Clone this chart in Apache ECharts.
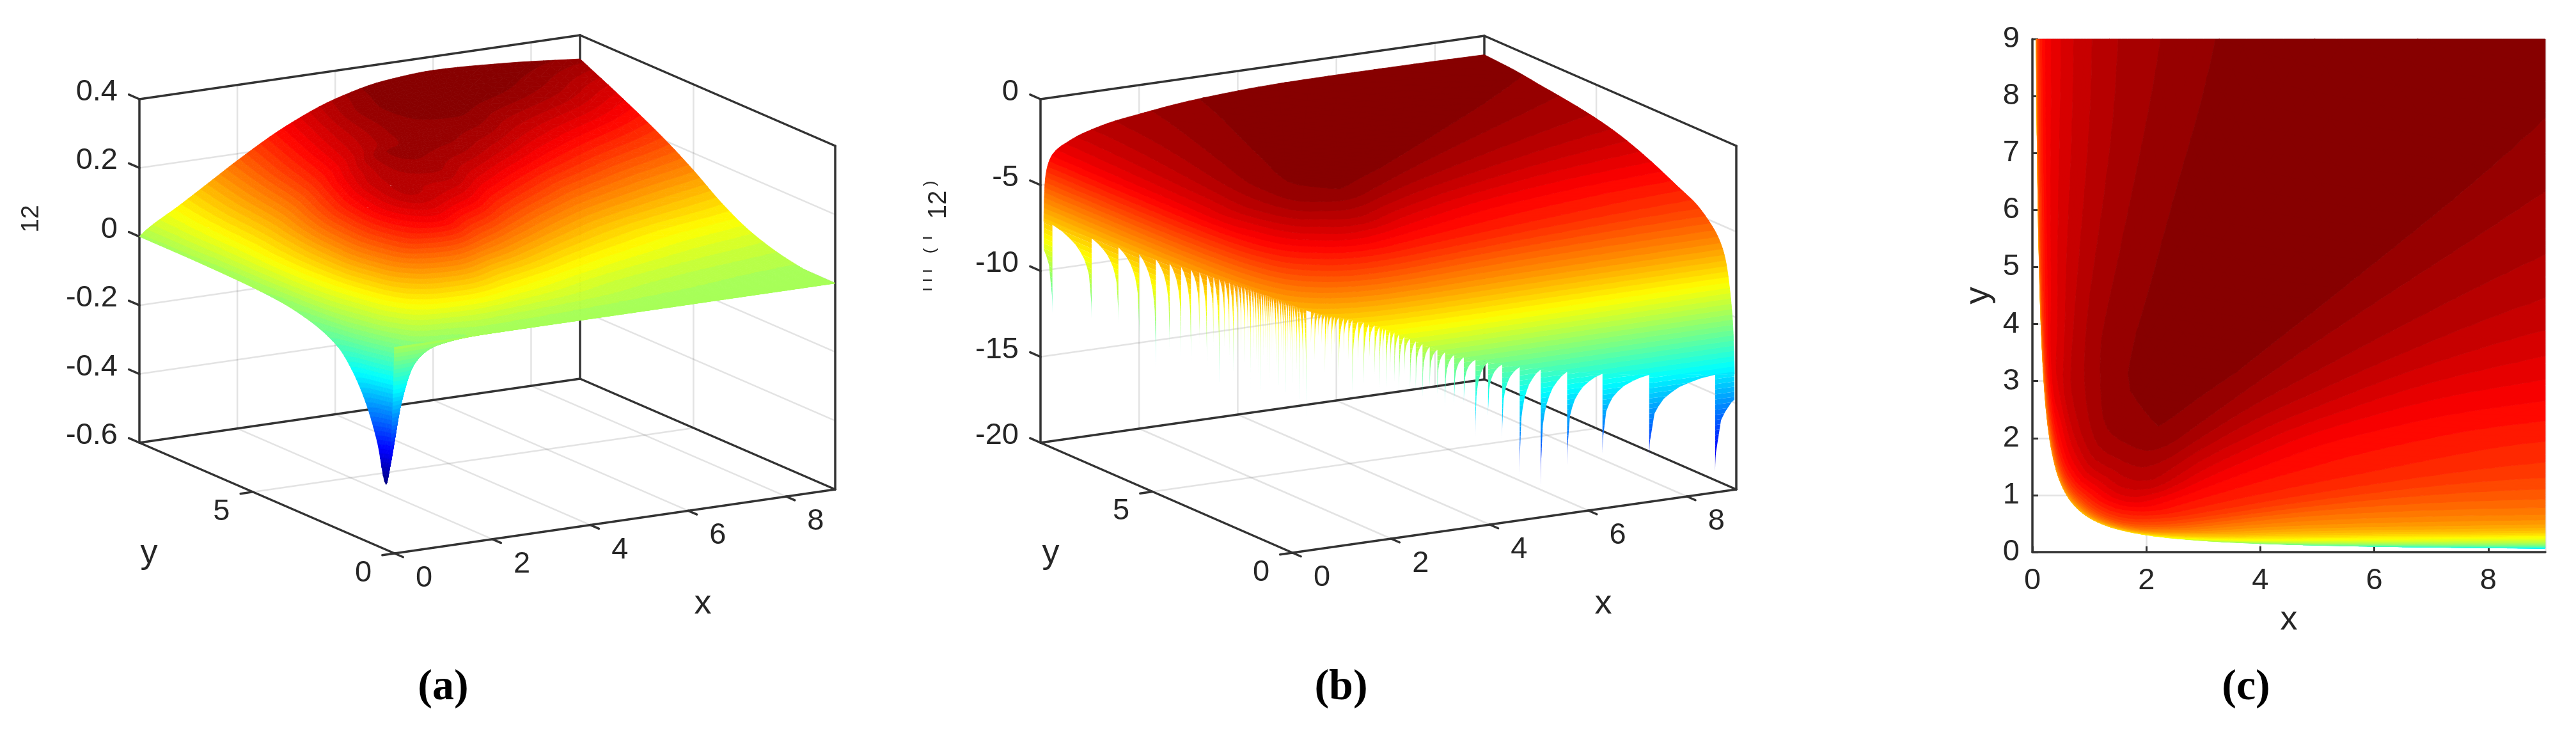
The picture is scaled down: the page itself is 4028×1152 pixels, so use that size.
<!DOCTYPE html>
<html><head><meta charset="utf-8">
<style>html,body{margin:0;padding:0;background:#fff}#c{width:4028px;height:1152px}</style>
<script src="https://cdn.jsdelivr.net/npm/echarts@6/dist/echarts.min.js"></script>
</head><body><div id="c"></div>
<script>
// ---------- panel (a): u12 ----------
const xNodes=[0,.1,.25,.5,.75,1,1.5,2,3,4,5,6,7.5,9];
const yNodes=[0,.1,.3,.6,1,1.5,2,3,4,5,6,7.5,9];
const u12=[
[0,0,0,0,0,0,0,0,0,0,0,0,0,0],
[-.25,-.2,-.12,-.05,-.025,-.015,-.006,-.003,-.001,-.0005,0,0,0,0],
[-.41,-.33,-.2,-.08,-.04,-.02,-.008,0,.0005,.0005,.0004,.0003,.0002,.0001],
[-.3,-.26,-.16,-.05,-.012,.002,.012,.02,.012,.007,.004,.002,.001,.0005],
[-.2,-.18,-.1,-.02,.02,.05,.08,.085,.05,.03,.018,.01,.004,.001],
[-.12,-.11,-.05,.015,.06,.105,.16,.175,.105,.062,.035,.022,.012,.007],
[-.07,-.06,-.015,.035,.09,.15,.235,.26,.18,.11,.065,.042,.025,.016],
[-.03,-.022,.018,.07,.13,.185,.27,.305,.285,.21,.145,.1,.062,.044],
[-.012,-.008,.03,.08,.125,.175,.255,.3,.32,.285,.23,.175,.125,.09],
[-.005,0,.033,.075,.11,.15,.22,.275,.33,.325,.295,.25,.19,.15],
[-.002,.003,.03,.065,.095,.125,.185,.24,.31,.335,.33,.3,.25,.203],
[0,.01,.03,.058,.084,.11,.16,.21,.287,.335,.35,.345,.32,.27],
[0,.012,.027,.048,.068,.09,.135,.18,.26,.318,.35,.36,.35,.331]];
// ---------- panels (b), (c): ln(u12) read along the zero curve xy = 0.6 ----------
const sNodes=[-2.5,-2,-1.5,-1,-.75,-.5,-.25,0,.125,.25,.5,.75,1,1.5,2,2.5]; // half log ratio of x to y
const wNodes=[1,1.15,1.4,2,3,5,8,14,25,45,80,135];                           // xy / 0.6
const lnU12=[
[-7.2,-6.7,-6.3,-6.2,-6.3,-6.4,-6.6,-6.8,-6.9,-7,-7.2,-7.5,-8.1,-10.1,-11.9,-13.5],
[-5.8,-5.4,-5,-4.9,-4.95,-5,-5.2,-5.5,-5.55,-5.6,-5.8,-6.2,-7.1,-9.2,-11.2,-13],
[-5,-4.6,-4.1,-3.8,-3.85,-3.9,-4.1,-4.4,-4.45,-4.5,-4.7,-5.3,-6.4,-8.5,-10.6,-12.4],
[-4.3,-4,-3.55,-2.85,-3,-2.95,-3,-3.3,-3.35,-3.45,-3.9,-4.7,-5.8,-7.9,-9.9,-11.7],
[-3.9,-3.6,-3.15,-2.65,-2.27,-2.2,-2.15,-2.4,-2.45,-2.6,-3.45,-4.4,-5.6,-7.4,-9.4,-11],
[-3.6,-3.3,-2.95,-2.4,-2.02,-1.75,-1.55,-1.7,-1.85,-2.15,-3.4,-4.25,-5.4,-6.8,-8.8,-10.3],
[-3.4,-3,-2.8,-2.27,-1.88,-1.5,-1.3,-1.3,-1.6,-2.2,-3.4,-4.15,-5.15,-6.4,-8.2,-9.6],
[-3.2,-2.8,-2.55,-2.15,-1.8,-1.42,-1.2,-1.22,-1.55,-2.15,-3.4,-4.05,-4.85,-5.9,-7.6,-9],
[-3,-2.6,-2.3,-1.95,-1.72,-1.34,-1.15,-1.12,-1.52,-2,-3.25,-3.98,-4.5,-5.5,-7.1,-8.4],
[-2.8,-2.4,-2.1,-1.8,-1.6,-1.29,-1.1,-1.05,-1.48,-1.9,-2.93,-3.7,-4.2,-5.1,-6.7,-7.9],
[-2.7,-2.3,-1.9,-1.6,-1.4,-1.15,-1.05,-1.03,-1.45,-1.82,-2.6,-3.4,-3.9,-4.8,-6.3,-7.5],
[-2.6,-2.2,-1.8,-1.45,-1.25,-1.05,-1.05,-1.1,-1.45,-1.75,-2.3,-3.1,-3.7,-4.6,-6,-7.1]];
// cusps of the surface (b) along the zero curve
const cuspLeftX=[.069,.082,.094,.106,.118,.13,.142,.154,.166,.178,.19,.202,.214,.226,.238,.25,.262,.274,.286,.298,.31,.322,.334,.346,.358,.37,.382,.394,.406,.42,.44,.46,.48,.5,.52,.54,.56,.58,.6,.63,.66,.7,.74];
const cuspLeftZ=[-12.25,-11.6,-11.2,-11.6,-12.9,-11.5,-11.7,-11.8,-10.5,-11.7,-10.5,-13,-10.5,-11,-12,-11,-10.5,-11.5,-10,-12,-10.5,-11,-12,-13,-10.5,-10,-11,-12,-10.5,-10,-11,-12.5,-10,-11,-13,-10,-10.5,-12,-10,-11,-13,-12,-13];
const cuspRightX=[.8,.85,.9,.95,1,1.04,1.1,1.15,1.22,1.3,1.38,1.45,1.55,1.65,1.75,1.85,1.94,2,2.06,2.14,2.22,2.31,2.41,2.52,2.63,2.76,2.9,3.05,3.2,3.38,3.57,3.8,4.05,4.33,4.68,5.1,5.63,6.34,7.28,8.61,10.1];
const cuspRightZ=[-9,-10,-8.5,-9,-11,-9,-10,-9,-11,-9.5,-10,-12,-10,-11.5,-10,-11,-12,-10.5,-12,-11,-11.5,-12,-11,-12,-12,-12.5,-12,-12.4,-13,-13,-13,-14.9,-14,-15.3,-17.5,-18.4,-17.3,-16.9,-17.5,-18.85];
const cuspU=[0,.002,.006,.012,.033,.08,.14,.22,.33,.455,.62,.78,1];
const cuspH=[1,.93,.86,.8,.7,.47,.38,.29,.215,.147,.09,.044,0];
// ticks
const xTicks=[0,2,4,6,8], yTicks3d=[0,5];
const zTicksA=[-.6,-.4,-.2,0,.2,.4], zLabelsA=['-0.6','-0.4','-0.2','0','0.2','0.4'];
const zTicksB=[-20,-15,-10,-5,0], zLabelsB=['-20','-15','-10','-5','0'];
const TEXT='#262626', FONT='"Liberation Sans",Arial,sans-serif';
const C_A=[-.41,.35], C_B=[-20,-1];

// ---------- helpers ----------
function jet(k){const t=(k+.5)/64,c=v=>Math.round(255*Math.max(0,Math.min(1,v)));
  return `rgb(${c(Math.min(4*t-1.5,-4*t+4.5))},${c(Math.min(4*t-.5,-4*t+3.5))},${c(Math.min(4*t+.5,-4*t+2.5))})`;}
function pchip(xs,ys,qs){const n=xs.length,h=[],d=[],m=new Array(n);
  for(let i=0;i<n-1;i++){h[i]=xs[i+1]-xs[i];d[i]=(ys[i+1]-ys[i])/h[i];}
  m[0]=d[0];m[n-1]=d[n-2];
  for(let i=1;i<n-1;i++){if(d[i-1]*d[i]<=0)m[i]=0;else{const a=2*h[i]+h[i-1],b=h[i]+2*h[i-1];m[i]=(a+b)/(a/d[i-1]+b/d[i]);}}
  return qs.map(q=>{let i=0;while(i<n-2&&q>xs[i+1])i++;const t=(q-xs[i])/h[i],t2=t*t,t3=t2*t;
    return (2*t3-3*t2+1)*ys[i]+(t3-2*t2+t)*h[i]*m[i]+(-2*t3+3*t2)*ys[i+1]+(t3-t2)*h[i]*m[i+1];});}
function fine(xs,nf){const o=[];for(let i=0;i<xs.length-1;i++){const n=nf(i);for(let j=0;j<n;j++)o.push(xs[i]+(xs[i+1]-xs[i])*j/n);}o.push(xs[xs.length-1]);return o;}
function surfaceOn(xs,ys,tab,qx,qy){const cols=xs.map((_,ix)=>pchip(ys,tab.map(r=>r[ix]),qy));
  return qy.map((_,j)=>pchip(xs,cols.map(c=>c[j]),qx));}
function clipLE(p,a,lim){const o=[];for(let i=0;i<p.length;i++){const A=p[i],B=p[(i+1)%p.length],ia=A[a]<=lim,ib=B[a]<=lim;
  if(ia)o.push(A);if(ia!==ib){const t=(lim-A[a])/(B[a]-A[a]);o.push([A[0]+t*(B[0]-A[0]),A[1]+t*(B[1]-A[1]),A[2]+t*(B[2]-A[2])]);}}return o;}
function clipGE(p,a,lim){const o=[];for(let i=0;i<p.length;i++){const A=p[i],B=p[(i+1)%p.length],ia=A[a]>=lim,ib=B[a]>=lim;
  if(ia)o.push(A);if(ia!==ib){const t=(lim-A[a])/(B[a]-A[a]);o.push([A[0]+t*(B[0]-A[0]),A[1]+t*(B[1]-A[1]),A[2]+t*(B[2]-A[2])]);}}return o;}
function split(poly,cmin,cmax,emit){let lo=Infinity,hi=-Infinity;for(const v of poly){if(v[2]<lo)lo=v[2];if(v[2]>hi)hi=v[2];}
  const dz=(cmax-cmin)/64,L=z=>Math.max(0,Math.min(63,Math.floor((z-cmin)/dz))),k0=L(lo),k1=L(hi);
  if(k0===k1){emit(k0,poly);return;}
  for(let k=k0;k<=k1;k++){let p=poly;if(k>0)p=clipGE(p,2,cmin+k*dz);if(p.length&&k<63)p=clipLE(p,2,cmin+(k+1)*dz);if(p.length>2)emit(k,p);}}

// ---------- build surfaces ----------
// (a) ordered back to front
const qxA=fine(xNodes,()=>6),qyA=fine(yNodes,()=>6),zA=surfaceOn(xNodes,yNodes,u12,qxA,qyA);
const polysA=[];
for(let j=0;j<qyA.length-1;j++)for(let i=0;i<qxA.length-1;i++){
  const a=[qxA[i],qyA[j],zA[j][i]],b=[qxA[i+1],qyA[j],zA[j][i+1]],c=[qxA[i+1],qyA[j+1],zA[j+1][i+1]],d=[qxA[i],qyA[j+1],zA[j+1][i]];
  for(const tri of [[a,b,c],[a,c,d]])split(tri,C_A[0],C_A[1],(k,p)=>polysA.push({k,p,d:tri.reduce((s,v)=>s+11*v[0]+19*v[1],0)}));}
polysA.sort((m,n)=>n.d-m.d);
// (b)/(c) log surface
const tNodes=wNodes.map(Math.log);
const qs=fine(sNodes,i=>Math.round((sNodes[i+1]-sNodes[i])/.0625)),qt=fine(tNodes,()=>6),zB=surfaceOn(sNodes,tNodes,lnU12,qs,qt);
const bandsB=Array.from({length:64},()=>[]),bandsF=Array.from({length:64},()=>[]);
const node=(i,j)=>{const r=Math.sqrt(.6)*Math.exp(qt[j]/2);return [r*Math.exp(qs[i]),r*Math.exp(-qs[i]),zB[j][i]];};
for(let j=0;j<qt.length-1;j++)for(let i=0;i<qs.length-1;i++){
  const a=node(i,j),b=node(i+1,j),c=node(i+1,j+1),d=node(i,j+1);
  if(Math.min(a[0],b[0],c[0],d[0])>9||Math.min(a[1],b[1],c[1],d[1])>9)continue;
  for(const tri of [[a,b,c],[a,c,d]]){let p=clipLE(tri,0,9);if(p.length>2)p=clipLE(p,1,9);if(p.length>2)split(p,C_B[0],C_B[1],(k,q)=>bandsB[k].push(q));}}
// cusps hanging from the zero curve
const topZ=x=>pchip(sNodes,lnU12[0],[Math.log(x/Math.sqrt(.6))])[0];
function cusp(x0,x1,zBottom){ // x0 = the deep end, x1 = the far end of one scallop
  const D=topZ(x0)-zBottom;
  for(let i=0;i<cuspU.length-1;i++){
    const X=[cuspU[i],cuspU[i+1]].map(u=>x0+(x1-x0)*u),H=[cuspH[i],cuspH[i+1]],T=X.map(topZ);
    const v=(x,z)=>[x,.6/x,z];
    const q=[v(X[0],T[0]),v(X[1],T[1]),v(X[1],T[1]-D*H[1]),v(X[0],T[0]-D*H[0])];
    for(const tri of [[q[0],q[1],q[2]],[q[0],q[2],q[3]]]){let p=clipLE(tri,0,9);if(p.length>2)p=clipLE(p,1,9);if(p.length>2)split(p,C_B[0],C_B[1],(k,r)=>bandsF[k].push(r));}}}
cuspLeftX.forEach((x,k)=>cusp(x,k?cuspLeftX[k-1]:.057,cuspLeftZ[k]));
cuspRightZ.forEach((z,k)=>cusp(cuspRightX[k],cuspRightX[k+1],z));

// ---------- 3-D view ----------
const viewA={ox:617,oy:865,xv:[689,-100],yv:[-399,-173],zv:537,zMin:-.6,zMax:.4};
const viewB={ox:2021,oy:864,xv:[694,-99],yv:[-394,-172],zv:537,zMin:-20,zMax:0};
const proj=(V,x,y,z)=>[V.ox+x/9*V.xv[0]+y/9*V.yv[0],V.oy+x/9*V.xv[1]+y/9*V.yv[1]-(z-V.zMin)/(V.zMax-V.zMin)*V.zv];
function frame(V,zT){const a=V.zMin,b=V.zMax,grid=[],box=[];
  for(const x of xTicks){grid.push([x,0,a,x,9,a],[x,9,a,x,9,b]);}
  for(const y of yTicks3d){grid.push([0,y,a,9,y,a],[9,y,a,9,y,b]);}
  for(const z of zT){grid.push([0,9,z,9,9,z],[9,9,z,9,0,z]);}
  box.push([0,9,a,0,9,b],[9,9,a,9,9,b],[9,0,a,9,0,b],[0,0,a,9,0,a],[0,0,a,0,9,a],[0,9,a,9,9,a],[9,0,a,9,9,a],[0,9,b,9,9,b],[9,0,b,9,9,b]);
  for(const x of xTicks)box.push([x,-.3,a,x,0,a]);
  for(const y of yTicks3d)box.push([-.25,y,a,0,y,a]);
  for(const z of zT)box.push([0,9.37,z,0,9,z]);
  return {grid,box};}
function lineSeries(V,segs,idx,color,w){return {type:'custom',xAxisIndex:idx,yAxisIndex:idx,silent:true,animation:false,data:segs.map((_,i)=>[i]),
  encode:{x:[],y:[]},renderItem(p,api){const s=segs[p.dataIndex],A=api.coord(proj(V,s[0],s[1],s[2])),B=api.coord(proj(V,s[3],s[4],s[5]));
    return {type:'line',shape:{x1:A[0],y1:A[1],x2:B[0],y2:B[1]},style:{stroke:color,lineWidth:w,lineCap:'round'},silent:true};}};}
function tickText(V,items,idx){ // items: text, data point, pixel offset, alignment
  return {type:'custom',xAxisIndex:idx,yAxisIndex:idx,silent:true,animation:false,data:items.map((_,i)=>[i]),encode:{x:[],y:[]},
  renderItem(p,api){const t=items[p.dataIndex],A=api.coord(proj(V,t.at[0],t.at[1],t.at[2]));
    return {type:'text',x:A[0]+t.off[0],y:A[1]+t.off[1],style:{text:t.text,fontSize:47,fontFamily:FONT,fill:TEXT,align:t.align,verticalAlign:'middle'},silent:true};}};}
function labels3d(V,zT,zL){return [
  ...xTicks.map(x=>({text:String(x),at:[x,0,V.zMin],off:[46,39],align:'center'})),
  ...yTicks3d.map(y=>({text:String(y),at:[0,y,V.zMin],off:[-49,31],align:'center'})),
  ...zT.map((z,i)=>({text:zL[i],at:[0,9,z],off:[-34,-11],align:'right'}))];}

echarts.graphic.registerShape('polyBand',echarts.graphic.extendShape({type:'polyBand',shape:{polys:[]},
  buildPath(ctx,shape){for(const p of shape.polys){ctx.moveTo(p[0],p[1]);for(let i=2;i<p.length;i+=2)ctx.lineTo(p[i],p[i+1]);ctx.closePath();}}}));
function bandSeries(bands,toPlane,idx,stroke){const keys=[];bands.forEach((b,k)=>{if(b.length)keys.push(k);});
  return {type:'custom',xAxisIndex:idx,yAxisIndex:idx,silent:true,animation:false,progressive:0,data:keys.map(k=>[k]),encode:{x:[],y:[]},
  renderItem(p,api){const k=keys[p.dataIndex],polys=bands[k].map(q=>{const f=[];for(const v of q){const c=api.coord(toPlane(v));f.push(c[0],c[1]);}return f;}),col=jet(k);
    return {type:'polyBand',shape:{polys},style:{fill:col,stroke:stroke?col:null,lineWidth:stroke},silent:true};}};}
const surfA={type:'custom',xAxisIndex:0,yAxisIndex:0,silent:true,animation:false,progressive:0,data:polysA.map((_,i)=>[i]),encode:{x:[],y:[]},
  renderItem(p,api){const o=polysA[p.dataIndex],col=jet(o.k);
    return {type:'polygon',shape:{points:o.p.map(v=>api.coord(proj(viewA,v[0],v[1],v[2])))},style:{fill:col,stroke:col,lineWidth:.8},silent:true};}};

const frA=frame(viewA,zTicksA),frB=frame(viewB,zTicksB);
const hiddenAxis=(V,i,dim)=>{const cs=[V.ox,V.ox+V.xv[0],V.ox+V.yv[0]],rs=[V.oy,V.oy+V.xv[1]+V.yv[1]-V.zv];
  return dim==='x'?{type:'value',gridIndex:i,min:Math.min(...cs),max:Math.max(...cs),show:false}:{type:'value',gridIndex:i,min:rs[1],max:rs[0],inverse:true,show:false};};
const gridOf=V=>({left:V.ox+V.yv[0],width:V.xv[0]-V.yv[0],top:V.oy+V.xv[1]+V.yv[1]-V.zv,height:V.zv-V.xv[1]-V.yv[1]});
const axisC={axisLine:{show:true,onZero:false,lineStyle:{color:'#333',width:3.5}},axisTick:{inside:true,length:9,lineStyle:{color:'#333',width:3}},
  splitLine:{show:true,lineStyle:{color:'rgba(38,38,38,.13)',width:2.5}},axisLabel:{color:TEXT,fontSize:47,fontFamily:FONT},
  nameLocation:'middle',nameMoveOverlap:false,nameTextStyle:{color:TEXT,fontSize:54,fontFamily:FONT}};
const name3d=(t,x,y)=>({type:'text',x,y,silent:true,style:{text:t,fontSize:54,fontFamily:FONT,fill:TEXT,align:'center',verticalAlign:'middle'}});
const frag=(t,x,y,s)=>({type:'text',x,y,rotation:Math.PI/2,silent:true,style:{text:t,fontSize:s,fontFamily:FONT,fill:TEXT,align:'center',verticalAlign:'middle'}});
const title=(t,x)=>({text:`{p|(}{b|${t}}{p|)}`,left:x,top:1036,textAlign:'center',textStyle:{rich:{p:{fontFamily:'"Liberation Serif",serif',fontSize:68,color:'#000'},b:{fontFamily:'"Liberation Serif",serif',fontSize:68,fontWeight:'bold',color:'#000'}}}});

const chart=echarts.init(document.getElementById('c'),null,{renderer:'canvas',width:4028,height:1152});
chart.setOption({animation:false,backgroundColor:'#fff',
  title:[title('a',688),title('b',2092),title('c',3507)],
  grid:[gridOf(viewA),gridOf(viewB),{left:3178,top:61,width:802,height:802}],
  xAxis:[hiddenAxis(viewA,0,'x'),hiddenAxis(viewB,1,'x'),
    Object.assign({type:'value',gridIndex:2,min:0,max:9,interval:2,name:'x',nameGap:79},axisC,{axisLabel:Object.assign({},axisC.axisLabel,{margin:22,showMaxLabel:false})})],
  yAxis:[hiddenAxis(viewA,0,'y'),hiddenAxis(viewB,1,'y'),
    Object.assign({type:'value',gridIndex:2,min:0,max:9,interval:1,name:'y',nameGap:57},axisC,{axisLabel:Object.assign({},axisC.axisLabel,{margin:20})})],
  series:[
    lineSeries(viewA,frA.grid,0,'rgba(38,38,38,.13)',2.5),
    lineSeries(viewA,frA.box,0,'#333',3.5),
    surfA,
    tickText(viewA,labels3d(viewA,zTicksA,zLabelsA),0),
    lineSeries(viewB,frB.grid,1,'rgba(38,38,38,.13)',2.5),
    lineSeries(viewB,frB.box,1,'#333',3.5),
    bandSeries(bandsB,v=>proj(viewB,v[0],v[1],v[2]),1,.8),
    bandSeries(bandsF,v=>proj(viewB,v[0],v[1],v[2]),1,0),
    tickText(viewB,labels3d(viewB,zTicksB,zLabelsB),1),
    bandSeries(bandsB,v=>[v[0],v[1]],2,.8)
  ],
  graphic:{elements:[
    name3d('x',1099,944),name3d('y',233,865),name3d('x',2507,944),name3d('y',1643,865),
    frag('12',49,342,39),frag('12',1468,320,40),frag(')',1455,287,26),frag('ı',1450,372,26),frag('(',1455,392,26),frag('ı ı ı',1450,438,26)
  ]}
});
</script></body></html>
